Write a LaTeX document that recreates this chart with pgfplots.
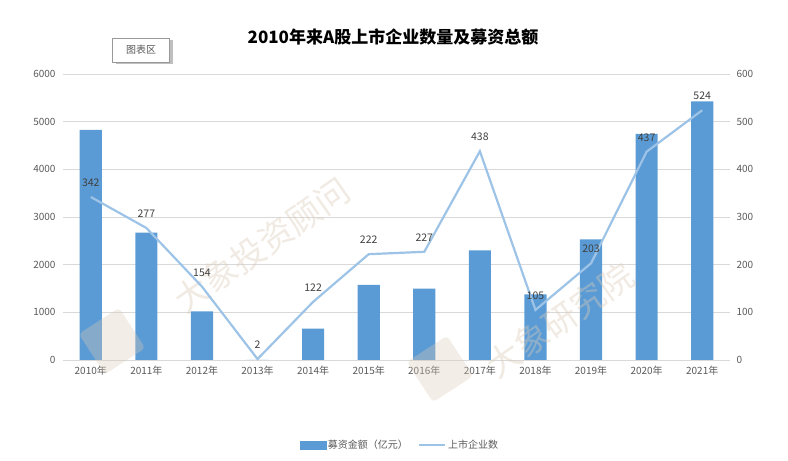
\documentclass[border=0pt]{standalone}
\usepackage{pgfplots}
\pgfplotsset{compat=1.18}
\usepackage{fontspec}
\setmainfont{Noto Sans CJK SC}
\definecolor{barblue}{HTML}{5B9BD5}
\definecolor{lineblue}{HTML}{9DC3E6}
\definecolor{gridgray}{HTML}{D9D9D9}
\definecolor{ticktext}{HTML}{595959}
\definecolor{labtext}{HTML}{404040}
\definecolor{wm}{HTML}{D9CBB8}
\begin{document}
\begin{tikzpicture}[x=1pt,y=1pt]
\path[use as bounding box] (0,0) rectangle (788,461);
\begin{axis}[
  at={(63pt,101pt)}, anchor=south west, scale only axis,
  width=667pt, height=286pt,
  xmin=-0.5, xmax=11.5, ymin=0, ymax=6000,
  ytick={0,1000,...,6000},
  xtick={0,...,11},
  xticklabels={2010年,2011年,2012年,2013年,2014年,2015年,2016年,2017年,2018年,2019年,2020年,2021年},
  axis line style={draw=none},
  major tick length=0pt,
  ymajorgrids, grid style={gridgray, line width=0.8pt},
  scaled y ticks=false,
  yticklabel style={/pgf/number format/1000 sep={}, font=\fontsize{10}{12}\selectfont, text=ticktext, xshift=-4pt},
  xticklabel style={font=\fontsize{10}{12}\selectfont, text=ticktext, yshift=-3pt},
  /pgf/number format/assume math mode=true,
  ybar, bar width=0.4,
]
\addplot[fill=barblue, draw=none] coordinates {
(0,4830) (1,2670) (2,1020) (3,0) (4,660) (5,1578) (6,1496) (7,2301) (8,1378) (9,2532) (10,4742) (11,5427)};
\end{axis}
% watermarks
\fill[wm, opacity=0.35, rotate around={33:(112,120)}, rounded corners=4pt] (88,96) rectangle (136,144);
\fill[wm, opacity=0.35, rotate around={33:(440,92)}, rounded corners=4pt] (416,68) rectangle (464,116);
\node[rotate=35, text=wm, opacity=0.4, font=\fontsize{34}{36}\selectfont] at (262,216) {大象投资顾问};
\node[rotate=35, text=wm, opacity=0.4, font=\fontsize{34}{36}\selectfont] at (560,141) {大象研究院};
\begin{axis}[
  at={(63pt,101pt)}, anchor=south west, scale only axis,
  width=667pt, height=286pt,
  xmin=-0.5, xmax=11.5, ymin=0, ymax=600,
  ytick={0,100,...,600},
  axis y line*=right, axis x line=none,
  axis line style={draw=none},
  major tick length=0pt,
  yticklabel style={font=\fontsize{10}{12}\selectfont, text=ticktext, xshift=3pt},
  /pgf/number format/assume math mode=true,
  legend columns=2,
  legend style={at={(0.505,-0.297)}, anchor=center, draw=none, fill=none,
    font=\fontsize{10}{12}\selectfont, text=ticktext,
    /tikz/every even column/.append style={column sep=8pt}},
]
\addlegendimage{legend image code/.code={\fill[barblue] (0pt,-4pt) rectangle (26pt,4pt);}}
\addlegendentry{募资金额（亿元）}
\addplot[lineblue, line width=2.2pt, mark=none,
  nodes near coords, point meta=explicit symbolic,
  every node near coord/.append style={font=\fontsize{10.5}{12}\selectfont, text=labtext, yshift=6pt},
  legend image code/.code={\draw[lineblue, line width=2.2pt] (0pt,0pt) -- (26pt,0pt);}]
  coordinates {
(0,342) [342] (1,277) [277] (2,154) [154] (3,2) [2] (4,122) [122] (5,222) [222] (6,227) [227] (7,438) [438] (8,105) [105] (9,203) [203] (10,437) [437] (11,524) [524]};
\addlegendentry{上市企业数}
\end{axis}
\node[font=\bfseries\fontsize{17}{20}\selectfont, text=black] at (393,424) {2010年来A股上市企业数量及募资总额};
\fill[black!25] (116,397) rectangle (173,421);
\node[draw=black!40, fill=white, minimum width=57pt, minimum height=24pt, inner sep=0pt, text=ticktext, font=\fontsize{10}{12}\selectfont] at (141,411) {图表区};
\end{tikzpicture}
\end{document}
